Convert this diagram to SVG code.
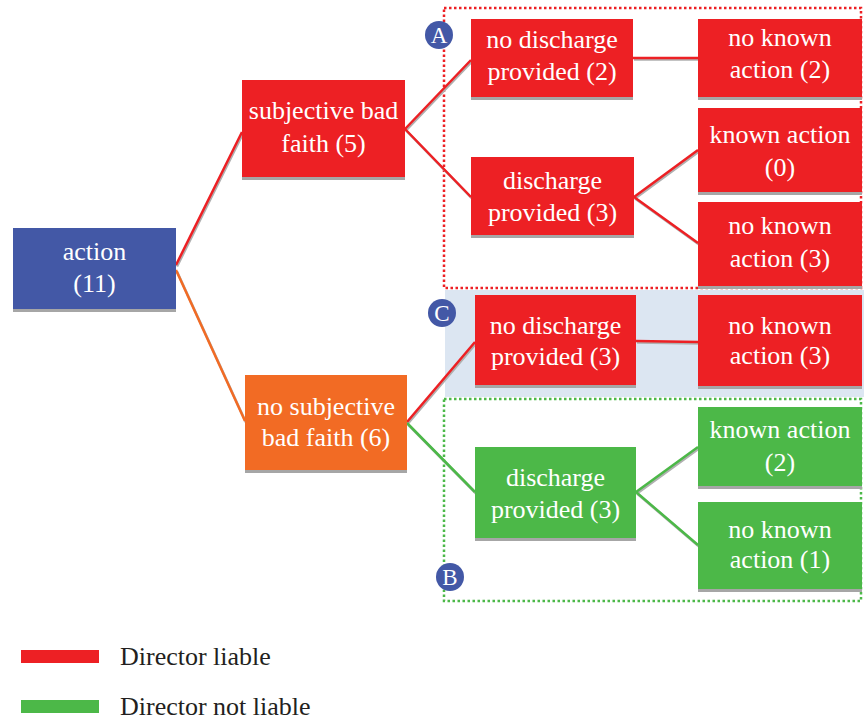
<svg xmlns="http://www.w3.org/2000/svg" width="864" height="720" viewBox="0 0 864 720">
<style>
.t{font-family:"Liberation Serif","Times New Roman",serif;font-size:26px;fill:#fff;text-anchor:middle}
.lg{font-family:"Liberation Serif","Times New Roman",serif;font-size:26px;fill:#231f20}
.sh{fill:#a6a6a6}
.red{fill:#ed2024}.blue{fill:#4358a6}.org{fill:#f26b24}.grn{fill:#4cb848}
.c{fill:none;stroke-width:2.5}
.cs{fill:none;stroke:#b0b0b0;stroke-width:2.5}
.cl{font-family:"Liberation Serif","Times New Roman",serif;font-size:23px;fill:#fff;text-anchor:middle}
</style>
<rect width="864" height="720" fill="#fff"/>
<g id="regions">
<rect x="445" y="290" width="419" height="107" fill="#dce6f2"/>
<rect x="444" y="8" width="417" height="280" fill="none" stroke="#ed2024" stroke-width="2.5" stroke-dasharray="2.5 2.5"/>
<rect x="444" y="399" width="417" height="202" fill="none" stroke="#4cb848" stroke-width="2.5" stroke-dasharray="2.5 2.5"/>
</g>
<g id="connectors">
<g transform="translate(1,1.5)">
<path class="cs" d="M176 265L242 132M176 270L245 421M405 129L471 60M405 129L471 197M633 58L698 58M634 197L698 150M634 197L698 243M407 422L475 342M407 423L475 492M636 341L698 342M636 492L698 447M636 492L698 545"/>
</g>
<path class="c" stroke="#ed2024" d="M176 265L242 132M405 129L471 60M405 129L471 197M633 58L698 58M634 197L698 150M634 197L698 243M407 422L475 342M636 341L698 342"/>
<path class="c" stroke="#f26b24" d="M176 270L245 421"/>
<path class="c" stroke="#4cb848" d="M407 423L475 492M636 492L698 447M636 492L698 545"/>
</g>
<g id="action"><rect class="sh" x="13" y="309" width="163" height="3"/><rect class="blue" x="13" y="228" width="163" height="81"/><text class="t" x="94.5" y="260">action</text><text class="t" x="94.5" y="292">(11)</text></g>
<g id="sbf5"><rect class="sh" x="242" y="177" width="163" height="3"/><rect class="red" x="242" y="80" width="163" height="97"/><text class="t" x="323.5" y="119">subjective bad</text><text class="t" x="323.5" y="152">faith (5)</text></g>
<g id="nsbf6"><rect class="sh" x="245" y="470" width="162" height="3"/><rect class="org" x="245" y="375" width="162" height="95"/><text class="t" x="326" y="415">no subjective</text><text class="t" x="326" y="446">bad faith (6)</text></g>
<g id="nd2"><rect class="sh" x="471" y="97" width="162" height="3"/><rect class="red" x="471" y="19" width="162" height="78"/><text class="t" x="552" y="48">no discharge</text><text class="t" x="552" y="80">provided (2)</text></g>
<g id="d3r"><rect class="sh" x="471" y="235" width="163" height="3"/><rect class="red" x="471" y="157" width="163" height="78"/><text class="t" x="552.5" y="189">discharge</text><text class="t" x="552.5" y="221">provided (3)</text></g>
<g id="nka2"><rect class="sh" x="698" y="97" width="164" height="3"/><rect class="red" x="698" y="19" width="164" height="78"/><text class="t" x="780" y="46">no known</text><text class="t" x="780" y="78">action (2)</text></g>
<g id="ka0"><rect class="sh" x="698" y="192" width="164" height="3"/><rect class="red" x="698" y="108" width="164" height="84"/><text class="t" x="780" y="143">known action</text><text class="t" x="780" y="176">(0)</text></g>
<g id="nka3a"><rect class="sh" x="698" y="286" width="164" height="3"/><rect class="red" x="698" y="202" width="164" height="84"/><text class="t" x="780" y="234">no known</text><text class="t" x="780" y="267">action (3)</text></g>
<g id="nd3"><rect class="sh" x="475" y="385" width="161" height="3"/><rect class="red" x="475" y="295" width="161" height="90"/><text class="t" x="555.5" y="334">no discharge</text><text class="t" x="555.5" y="365">provided (3)</text></g>
<g id="nka3c"><rect class="sh" x="698" y="386" width="164" height="3"/><rect class="red" x="698" y="295" width="164" height="91"/><text class="t" x="780" y="334">no known</text><text class="t" x="780" y="364">action (3)</text></g>
<g id="d3g"><rect class="sh" x="475" y="538" width="161" height="3"/><rect class="grn" x="475" y="447" width="161" height="91"/><text class="t" x="555.5" y="486">discharge</text><text class="t" x="555.5" y="518">provided (3)</text></g>
<g id="ka2"><rect class="sh" x="698" y="486" width="164" height="3"/><rect class="grn" x="698" y="407" width="164" height="79"/><text class="t" x="780" y="438">known action</text><text class="t" x="780" y="471">(2)</text></g>
<g id="nka1"><rect class="sh" x="698" y="589" width="164" height="3"/><rect class="grn" x="698" y="502" width="164" height="87"/><text class="t" x="780" y="538">no known</text><text class="t" x="780" y="568">action (1)</text></g>
<g id="labelA"><circle class="blue" cx="439" cy="35" r="14"/><text class="cl" x="439" y="43">A</text></g>
<g id="labelC"><circle class="blue" cx="442" cy="313" r="14"/><text class="cl" x="442" y="321">C</text></g>
<g id="labelB"><circle class="blue" cx="450" cy="577" r="14"/><text class="cl" x="450" y="585">B</text></g>
<g id="legend">
<rect class="red" x="21" y="650" width="78" height="13"/><text class="lg" x="120" y="665">Director liable</text>
<rect class="grn" x="21" y="700" width="78" height="13"/><text class="lg" x="120" y="715">Director not liable</text>
</g>
</svg>
